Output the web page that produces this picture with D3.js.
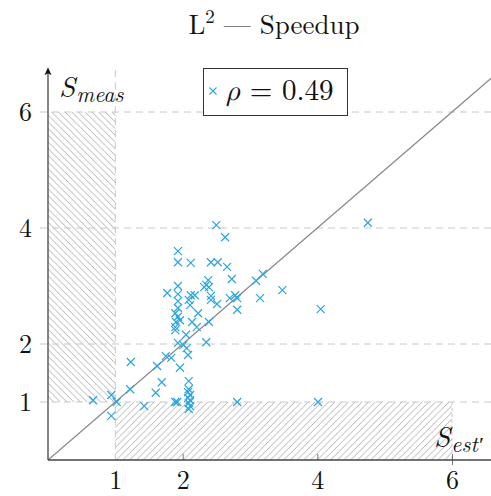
<!DOCTYPE html>
<html><head><meta charset="utf-8">
<script src="https://cdn.jsdelivr.net/npm/d3@7"></script>
<style>
html,body{margin:0;padding:0;background:#fff;}
svg{display:block;}
svg text{font-family:"Latin Modern Roman","Liberation Serif",serif;fill:#111;}
</style></head>
<body>
<svg id="chart" width="491" height="496"></svg>
<script>
const sEst = [2.50,2.63,1.93,1.93,2.12,2.42,2.52,2.66,2.73,2.38,2.35,2.39,2.32,1.93,3.09,3.19,3.48,3.15,1.77,1.93,1.93,1.93,1.89,1.93,2.12,2.18,2.09,2.11,2.23,2.14,2.42,2.42,2.51,2.39,2.70,2.78,2.81,2.81,4.05,4.75,1.90,1.96,1.89,1.89,2.21,2.05,1.93,2.01,2.06,2.35,2.08,1.75,1.83,1.62,1.96,1.23,1.69,2.09,2.09,2.08,2.11,2.08,2.11,2.09,2.11,2.09,1.60,1.22,0.94,0.67,1.02,1.43,1.89,1.92,2.81,4.01,0.94];
const sMeas = [4.05,3.84,3.60,3.41,3.40,3.41,3.41,3.33,3.12,3.10,3.02,2.98,2.98,3.00,3.09,3.21,2.93,2.79,2.88,2.86,2.74,2.62,2.53,2.47,2.84,2.84,2.76,2.67,2.53,2.38,2.83,2.76,2.69,2.38,2.79,2.84,2.79,2.59,2.60,4.09,2.38,2.41,2.29,2.24,2.29,2.16,2.02,1.98,1.93,2.03,1.81,1.79,1.76,1.62,1.59,1.69,1.34,1.36,1.22,1.17,1.12,1.07,1.03,0.98,0.93,0.88,1.16,1.22,1.12,1.03,1.00,0.93,1.00,1.00,1.00,1.00,0.76];
const xTicks = [1,2,4,6];
const yTicks = [1,2,4,6];
const gridY = [1,2,4,6];
const rho = "0.49";

const svg = d3.select("#chart");
const x = d3.scaleLinear().domain([0,6]).range([48,452]);
const y = d3.scaleLinear().domain([0,6]).range([460,112]);
const xMax = 6.6, yMax = 6.72;
const blue = "#2aa6e0";
const hatchCol = "#aaaaaa";
const w = 6.7;

const defs = svg.append("defs");
defs.append("pattern").attr("id","hatchBack").attr("patternUnits","userSpaceOnUse")
  .attr("width",w).attr("height",w)
  .append("path").attr("d",`M-1,${w-1}l2,2M0,0L${w},${w}M${w-1},-1l2,2`)
  .attr("stroke",hatchCol).attr("stroke-width",0.9).attr("fill","none");
defs.append("pattern").attr("id","hatchFwd").attr("patternUnits","userSpaceOnUse")
  .attr("width",w).attr("height",w)
  .append("path").attr("d",`M-1,1l2,-2M0,${w}L${w},0M${w-1},${w+1}l2,-2`)
  .attr("stroke",hatchCol).attr("stroke-width",0.9).attr("fill","none");

// hatched regions
svg.append("rect").attr("x",x(0)).attr("y",y(6)).attr("width",x(1)-x(0)).attr("height",y(1)-y(6))
  .attr("fill","url(#hatchBack)");
svg.append("rect").attr("x",x(1)).attr("y",y(1)).attr("width",x(6)-x(1)).attr("height",y(0)-y(1))
  .attr("fill","url(#hatchFwd)");

// grid lines
svg.append("g").selectAll("line").data(gridY).join("line")
  .attr("x1",40).attr("x2",491).attr("y1",d=>y(d)).attr("y2",d=>y(d))
  .attr("stroke","#c8c8c8").attr("stroke-width",1).attr("stroke-dasharray","7,5");
svg.append("line").attr("x1",x(1)).attr("x2",x(1)).attr("y1",y(yMax)).attr("y2",y(0))
  .attr("stroke","#c8c8c8").attr("stroke-width",1).attr("stroke-dasharray","7,5");
svg.append("line").attr("x1",x(6)).attr("x2",x(6)).attr("y1",y(1)).attr("y2",y(0))
  .attr("stroke","#c8c8c8").attr("stroke-width",1).attr("stroke-dasharray","3,3");

// diagonal
svg.append("line").attr("x1",x(0)).attr("y1",y(0)).attr("x2",x(xMax)).attr("y2",y(xMax))
  .attr("stroke","#8a8a8a").attr("stroke-width",1.2);

// axes
const xAxis = svg.append("g").attr("transform",`translate(0,${y(0)})`)
  .call(d3.axisBottom(x).tickValues(xTicks).tickFormat(d3.format("d")).tickSize(-6).tickPadding(0));
xAxis.select(".domain").remove();
xAxis.selectAll(".tick line").attr("stroke","#555").attr("stroke-width",0.8).attr("y2",-6).attr("y1",0);
xAxis.selectAll(".tick").filter(d=>d===6).select("line").attr("y1",5);
xAxis.selectAll(".tick").filter(d=>d===1).select("line").remove();
xAxis.selectAll("text").attr("font-size",26).attr("y",29).attr("dy",0);

const yAxis = svg.append("g").attr("transform",`translate(${x(0)},0)`)
  .call(d3.axisLeft(y).tickValues(yTicks).tickFormat(d3.format("d")).tickSize(0).tickPadding(16));
yAxis.select(".domain").remove();
yAxis.selectAll("text").attr("font-size",26).attr("dy","0.34em");

svg.append("line").attr("x1",x(0)).attr("x2",491).attr("y1",y(0)).attr("y2",y(0)).attr("stroke","#444").attr("stroke-width",1.3);
svg.append("line").attr("x1",x(0)).attr("x2",x(0)).attr("y1",y(0)).attr("y2",y(yMax)+2).attr("stroke","#444").attr("stroke-width",1.3);
svg.append("path").attr("d",`M${x(0)},${y(yMax)-3} l-3.5,8 l3.5,-2 l3.5,2 z`).attr("fill","#111");

// points
const s = 4;
svg.append("g").selectAll("path").data(sEst.map((v,i)=>[v,sMeas[i]])).join("path")
  .attr("d",d=>`M${x(d[0])-s},${y(d[1])-s}L${x(d[0])+s},${y(d[1])+s}M${x(d[0])-s},${y(d[1])+s}L${x(d[0])+s},${y(d[1])-s}`)
  .attr("stroke",blue).attr("stroke-width",1.2).attr("fill","none");

// axis labels
const yl = svg.append("text").attr("x",59).attr("y",97).attr("font-size",29).attr("font-style","italic");
yl.append("tspan").text("S");
yl.append("tspan").attr("font-size",22).attr("dy",5).attr("dx",1).text("meas");
const xl = svg.append("text").attr("x",434).attr("y",447).attr("font-size",29).attr("font-style","italic");
xl.append("tspan").text("S");
xl.append("tspan").attr("font-size",22).attr("dy",5).attr("dx",1).text("est′");

// legend
svg.append("rect").attr("x",203.5).attr("y",68.5).attr("width",144).attr("height",47)
  .attr("fill","#fff").attr("stroke","#333").attr("stroke-width",1);
const lx = 213, ly = 91, ls = 3.5;
svg.append("path").attr("d",`M${lx-ls},${ly-ls}L${lx+ls},${ly+ls}M${lx-ls},${ly+ls}L${lx+ls},${ly-ls}`)
  .attr("stroke",blue).attr("stroke-width",1.1);
const lt = svg.append("text").attr("x",226).attr("y",100).attr("font-size",29);
lt.append("tspan").attr("font-style","italic").style("font-family","'Latin Modern Math','Liberation Serif',serif").text("ρ");
lt.append("tspan").text(" = " + rho);

// title
const t = svg.append("text").attr("x",274).attr("y",34).attr("text-anchor","middle").attr("font-size",27);
t.append("tspan").text("L");
t.append("tspan").attr("font-size",19).attr("dy",-11).text("2");
t.append("tspan").attr("dy",11).text(" — Speedup");
</script>
</body></html>
